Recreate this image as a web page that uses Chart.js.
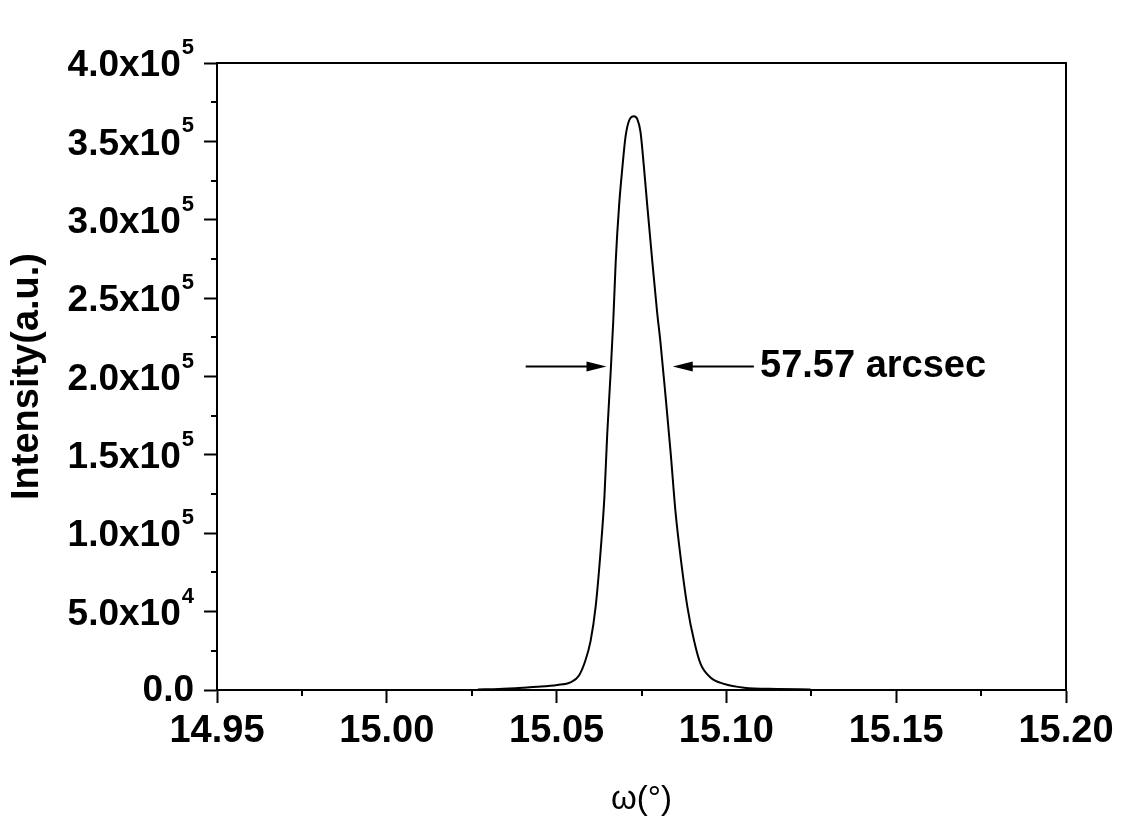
<!DOCTYPE html>
<html>
<head>
<meta charset="utf-8">
<script src="https://cdn.jsdelivr.net/npm/chart.js@4/dist/chart.umd.min.js"></script>
<style>
html,body{margin:0;padding:0;background:#fff;}
#wrap{width:1147px;height:823px;position:relative;}
</style>
</head>
<body>
<div id="wrap"><canvas id="c" width="1147" height="823"></canvas></div>
<script>
// ---- data ----
const omega = [15.0268, 15.0330, 15.0404, 15.0443, 15.0502, 15.0541, 15.0566, 15.0585, 15.0600, 15.0615,
               15.0630, 15.0641, 15.0649, 15.0659, 15.0667, 15.0674, 15.0684, 15.0694, 15.0703, 15.0713,
               15.0728, 15.0738, 15.0747, 15.0757, 15.0767, 15.0782, 15.0796, 15.0806, 15.0821, 15.0836,
               15.0850, 15.0865, 15.0885, 15.0905, 15.0924, 15.0953, 15.0993, 15.1052, 15.1150, 15.1248];
const intensity = [300, 700, 1500, 2000, 3200, 4900, 9300, 19000, 31200, 53200,
                   89800, 124000, 163000, 202000, 236000, 273000, 309000, 334000, 353000, 363000,
                   366000, 364000, 356000, 334000, 309000, 273000, 241000, 221500, 187000, 151000,
                   114000, 85000, 53200, 31200, 16600, 8000, 3900, 1500, 700, 300];
const xTickLabels = ['14.95', '15.00', '15.05', '15.10', '15.15', '15.20'];
const fwhmLabel = '57.57 arcsec';
const fwhmLevel = 207000;
const fwhmLeftArrow = [15.0409, 15.0647];   // tail, tip
const fwhmRightArrow = [15.1081, 15.0842];  // tail, tip
const fwhmTextX = 15.1099;

const FONT = '"Liberation Sans", Arial, sans-serif';

const boxAndExtras = {
  id: 'boxAndExtras',
  afterDraw(chart) {
    const ctx = chart.ctx;
    const a = chart.chartArea;
    const xs = chart.scales.x, ys = chart.scales.y;
    ctx.save();
    // frame
    ctx.strokeStyle = '#000';
    ctx.lineWidth = 2;
    ctx.strokeRect(a.left, a.top, a.right - a.left, a.bottom - a.top);
    // minor ticks
    ctx.beginPath();
    for (let v = 14.975; v < 15.2; v += 0.05) {
      const px = Math.round(xs.getPixelForValue(v));
      ctx.moveTo(px, a.bottom); ctx.lineTo(px, a.bottom + 6);
    }
    for (let v = 25000; v < 400000; v += 50000) {
      const py = Math.round(ys.getPixelForValue(v));
      ctx.moveTo(a.left, py); ctx.lineTo(a.left - 6, py);
    }
    ctx.stroke();
    // y tick labels with superscript exponents
    ctx.fillStyle = '#000';
    ctx.textBaseline = 'middle';
    const rightEdge = a.left - 23;
    ys.ticks.forEach(t => {
      const v = t.value;
      const py = ys.getPixelForValue(v);
      if (v === 0) {
        ctx.font = 'bold 37px ' + FONT;
        ctx.textAlign = 'right';
        ctx.fillText('0.0', rightEdge, py + 1);
        return;
      }
      const e = Math.floor(Math.log10(v) + 1e-9);
      const m = (v / Math.pow(10, e)).toFixed(1);
      ctx.font = 'bold 22px ' + FONT;
      const ew = ctx.measureText(String(e)).width;
      ctx.textAlign = 'right';
      ctx.fillText(String(e), rightEdge, py - 15);
      ctx.font = 'bold 37px ' + FONT;
      ctx.fillText(m + 'x10', rightEdge - ew - 1, py + 3);
    });
    // FWHM arrows
    const yA = Math.round(ys.getPixelForValue(fwhmLevel)) + 0.5;
    function arrow(x0, x1) {
      const p0 = xs.getPixelForValue(x0), p1 = xs.getPixelForValue(x1);
      const dir = Math.sign(p1 - p0);
      ctx.beginPath();
      ctx.lineWidth = 2;
      ctx.moveTo(p0, yA); ctx.lineTo(p1 - dir * 10, yA);
      ctx.stroke();
      ctx.beginPath();
      ctx.moveTo(p1, yA);
      ctx.lineTo(p1 - dir * 20, yA - 5);
      ctx.lineTo(p1 - dir * 20, yA + 5);
      ctx.closePath();
      ctx.fill();
    }
    arrow(fwhmLeftArrow[0], fwhmLeftArrow[1]);
    arrow(fwhmRightArrow[0], fwhmRightArrow[1]);
    ctx.font = 'bold 38px ' + FONT;
    ctx.textAlign = 'left';
    ctx.textBaseline = 'middle';
    ctx.fillText(fwhmLabel, xs.getPixelForValue(fwhmTextX), yA);
    ctx.restore();
  }
};

new Chart(document.getElementById('c'), {
  type: 'line',
  data: {
    datasets: [{
      data: omega.map((x, i) => ({x: x, y: intensity[i]})),
      borderColor: '#000',
      borderWidth: 2,
      pointRadius: 0,
      fill: false,
      cubicInterpolationMode: 'monotone'
    }]
  },
  options: {
    responsive: false,
    animation: false,
    events: [],
    layout: {padding: {left: 0, top: 63, right: 81, bottom: 0}},
    plugins: {legend: {display: false}, tooltip: {enabled: false}},
    scales: {
      x: {
        type: 'linear',
        min: 14.95, max: 15.20,
        afterFit(s) { s.height = 133; },
        afterBuildTicks(s) { s.ticks = xTickLabels.map(l => ({value: parseFloat(l)})); },
        ticks: {
          callback: (v) => xTickLabels.find(l => Math.abs(parseFloat(l) - v) < 1e-6) || '',
          font: {family: FONT, size: 38, weight: 'bold'},
          color: '#000',
          padding: 6,
          maxRotation: 0,
          autoSkip: false
        },
        grid: {drawOnChartArea: false, drawTicks: true, tickLength: 13, tickWidth: 2, tickColor: '#000'},
        border: {display: true, color: '#000', width: 2},
        title: {display: true, text: 'ω(°)', font: {family: FONT, size: 33}, color: '#000', padding: {top: 0, bottom: 3}}
      },
      y: {
        type: 'linear',
        min: 0, max: 400000,
        afterFit(s) { s.width = 217; },
        ticks: {stepSize: 50000, display: false},
        grid: {drawOnChartArea: false, drawTicks: true, tickLength: 13, tickWidth: 2, tickColor: '#000'},
        border: {display: true, color: '#000', width: 2},
        title: {display: true, text: 'Intensity(a.u.)', font: {family: FONT, size: 38, weight: 'bold'}, color: '#000', padding: {top: 5, bottom: 0}}
      }
    }
  },
  plugins: [boxAndExtras]
});
</script>
</body>
</html>
